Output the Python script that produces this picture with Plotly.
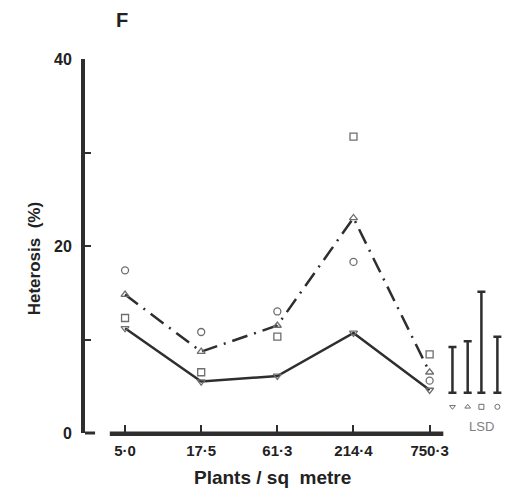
import plotly.graph_objects as go

# ---- data ----
densities = ["5·0", "17·5", "61·3", "214·4", "750·3"]
circle_vals = [17.4, 10.8, 13.0, 18.3, 5.6]
triangle_vals = [14.8, 8.7, 11.5, 23.0, 6.5]
square_vals = [12.3, 6.5, 10.3, 31.7, 8.4]
tridown_vals = [11.2, 5.5, 6.1, 10.7, 4.6]

lsd_symbols = ["triangle-down-open", "triangle-up-open", "square-open", "circle-open"]
lsd_base = 4.3
lsd_lengths = [4.9, 5.5, 10.8, 6.0]
lsd_x = [4.30, 4.50, 4.68, 4.89]

xi = list(range(len(densities)))
mark_col = "#6e6e6e"
line_col = "#2e2e2e"
font_fam = "Liberation Sans, Arial, sans-serif"

fig = go.Figure()

# dash-dot line through triangles
fig.add_trace(go.Scatter(x=xi, y=triangle_vals, mode="lines",
                         line=dict(color=line_col, width=2.5, dash="16px,7px,2px,7px"),
                         showlegend=False, hoverinfo="skip"))
# solid line through inverted triangles
fig.add_trace(go.Scatter(x=xi, y=tridown_vals, mode="lines",
                         line=dict(color=line_col, width=2.5),
                         showlegend=False, hoverinfo="skip"))

for vals, sym in [(circle_vals, "circle-open"), (triangle_vals, "triangle-up-open"),
                  (square_vals, "square-open"), (tridown_vals, "triangle-down-open")]:
    fig.add_trace(go.Scatter(x=xi, y=vals, mode="markers",
                             marker=dict(symbol=sym, size=7, color=mark_col,
                                         line=dict(color=mark_col, width=1.3)),
                             showlegend=False))

# LSD bars
fig.add_trace(go.Scatter(x=lsd_x, y=[lsd_base] * len(lsd_x), mode="markers",
                         marker=dict(size=1, color="rgba(0,0,0,0)"),
                         error_y=dict(type="data", symmetric=False, array=lsd_lengths,
                                      arrayminus=[0] * len(lsd_x), color=line_col,
                                      thickness=2.5, width=4),
                         showlegend=False))
# LSD symbol keys
fig.add_trace(go.Scatter(x=lsd_x, y=[2.8] * len(lsd_x), mode="markers",
                         marker=dict(symbol=lsd_symbols, size=5, color=mark_col,
                                     line=dict(color=mark_col, width=1)),
                         showlegend=False))

fig.add_annotation(x=4.68, y=0.65, xref="x", yref="y", text="LSD", showarrow=False,
                   font=dict(family=font_fam, size=13, color="#808080"))

# x axis line (offset from the y axis)
fig.add_shape(type="line", xref="x", yref="paper", x0=-0.2, x1=4.18, y0=-0.002, y1=-0.002,
              line=dict(color=line_col, width=4.5))
# foot of the y axis
fig.add_shape(type="line", xref="paper", yref="paper", x0=0, x1=0.024, y0=0, y1=0,
              line=dict(color=line_col, width=3))

fig.add_annotation(xref="paper", yref="paper", x=0.088, y=1.104, xanchor="center",
                   yanchor="middle", text="F", showarrow=False,
                   font=dict(family=font_fam, size=20, color="#222", weight="bold"))

fig.add_annotation(xref="x", yref="paper", x=1.93, y=-0.118, yanchor="middle",
                   text="Plants / sq  metre", showarrow=False,
                   font=dict(family=font_fam, size=19, color="#222", weight="bold"))

fig.add_annotation(xref="paper", yref="paper", x=-0.121, y=0.465, xanchor="center",
                   yanchor="middle", textangle=-90, text="Heterosis  (%)", showarrow=False,
                   font=dict(family=font_fam, size=17, color="#222", weight="bold"))

fig.update_xaxes(range=[-0.526, 4.99], tickvals=xi, ticktext=densities,
                 ticks="inside", ticklen=8, tickwidth=1.5, tickcolor=line_col,
                 showline=False, showgrid=False, zeroline=False,
                 tickfont=dict(family=font_fam, size=15, color="#222", weight="bold"),
                 ticklabelstandoff=7)
fig.update_yaxes(range=[0, 40], tickvals=[0, 10, 20, 30, 40],
                 ticktext=["0", "", "20", "", "40"],
                 ticks="inside", ticklen=6, tickwidth=1.5, tickcolor=line_col,
                 showline=True, linewidth=4, linecolor=line_col,
                 showgrid=False, zeroline=False,
                 tickfont=dict(family=font_fam, size=16, color="#222", weight="bold"),
                 ticklabelstandoff=6)

fig.update_layout(width=512, height=493, margin=dict(l=85, r=7, t=59, b=60),
                  plot_bgcolor="white", paper_bgcolor="white")

fig.write_html("out.html")
